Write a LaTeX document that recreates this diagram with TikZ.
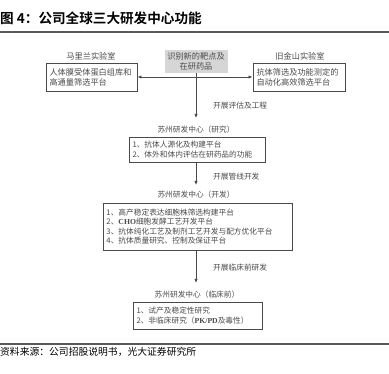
\documentclass[tikz,border=0pt]{standalone}
\usepackage{fontspec}
\setmainfont{Liberation Serif}
\newfontfamily\cjk[BoldFont={Noto Sans CJK SC Bold}]{Noto Sans CJK SC}
\newfontfamily\lat{Liberation Serif}
\usetikzlibrary{arrows.meta}
\definecolor{txtgray}{HTML}{4A4A4A}
\definecolor{boxgray}{HTML}{D6D6D6}
\begin{document}
\begin{tikzpicture}[
    x=1pt, y=-1pt,
    >={Latex[length=4pt,width=3.4pt]},
    font=\cjk\fontsize{7.7}{9.4}\selectfont,
    pbox/.style={draw=txtgray, line width=0.9pt, text=txtgray,
                 align=left, inner xsep=3.5pt, inner ysep=2pt},
    toprow/.style={font=\cjk\fontsize{8.2}{10}\selectfont},
    plabel/.style={text=txtgray, inner sep=1pt},
    elabel/.style={text=txtgray, anchor=west, inner sep=0pt},
    arr/.style={->, line width=0.8pt, draw=txtgray}
  ]
  \useasboundingbox (0,0) rectangle (389,374);

  %% -- heading and footer rules --
  \node[anchor=base west, inner sep=0pt, font=\cjk\bfseries\fontsize{13.6}{14}\selectfont]
    (title) at (0,24) {图 4：公司全球三大研发中心功能};
  \draw[line width=1.3pt, black!65] (0,32) coordinate (tl) -- (389,32) coordinate (tr);
  \draw[line width=1.3pt, black!65] (0,344) coordinate (bl) -- (389,344) coordinate (br);
  \node[anchor=base west, inner sep=0pt, font=\cjk\fontsize{9.8}{11}\selectfont]
    (source) at (0,356) {资料来源：公司招股说明书，光大证券研究所};

  %% -- top row --
  \node[fill=boxgray, text=txtgray, align=center, minimum width=63pt,
        minimum height=23pt, inner sep=1pt, toprow] (target) at (196,61.5)
    {识别新的靶点及\\在研药品};
  \node[plabel, toprow] (marylab) at (91,56) {马里兰实验室};
  \node[pbox, toprow, text width=84pt, minimum height=28pt] (mary) at (91.5,77)
    {人体膜受体蛋白组库和\\高通量筛选平台};
  \node[plabel, toprow] (sflab) at (300,56) {旧金山实验室};
  \node[pbox, toprow, text width=85pt, minimum height=28pt] (sf) at (299,77)
    {抗体筛选及功能测定的\\自动化高效筛选平台};
  \draw[<->, line width=0.8pt, draw=txtgray] (mary.east) -- (sf.west);

  %% -- research --
  \node[plabel] (reslab) at (196,130) {苏州研发中心（研究）};
  \node[pbox, text width=129pt, minimum height=25pt] (res) at (197,149.5)
    {1、抗体人源化及构建平台\\2、体外和体内评估在研药品的功能};
  \draw[arr] (target.south) -- (target.south |- 0,118) coordinate (resin);
  \node[elabel] (eval) at (213,106) {开展评估及工程};

  %% -- development --
  \node[plabel] (devlab) at (196,195) {苏州研发中心（开发）};
  \node[pbox, text width=182pt, minimum height=47pt] (dev) at (197.5,226.5)
    {1、高产稳定表达细胞株筛选构建平台\\
     2、{\lat\bfseries CHO}细胞发酵工艺开发平台\\
     3、抗体纯化工艺及制剂工艺开发与配方优化平台\\
     4、抗体质量研究、控制及保证平台};
  \draw[arr] (res.south -| resin) -- (resin |- 0,185) coordinate (devin);
  \node[elabel] (pipe) at (213,177) {开展管线开发};

  %% -- preclinical --
  \node[plabel] (prelab) at (197,295) {苏州研发中心（临床前）};
  \node[pbox, text width=122pt, minimum height=27pt] (pre) at (197.5,315.5)
    {1、试产及稳定性研究\\2、非临床研究（{\lat\bfseries PK/PD}及毒性）};
  \draw[arr] (dev.south -| resin) -- (resin |- 0,283) coordinate (prein);
  \node[elabel] (clin) at (213,268) {开展临床前研发};

\end{tikzpicture}
\end{document}
